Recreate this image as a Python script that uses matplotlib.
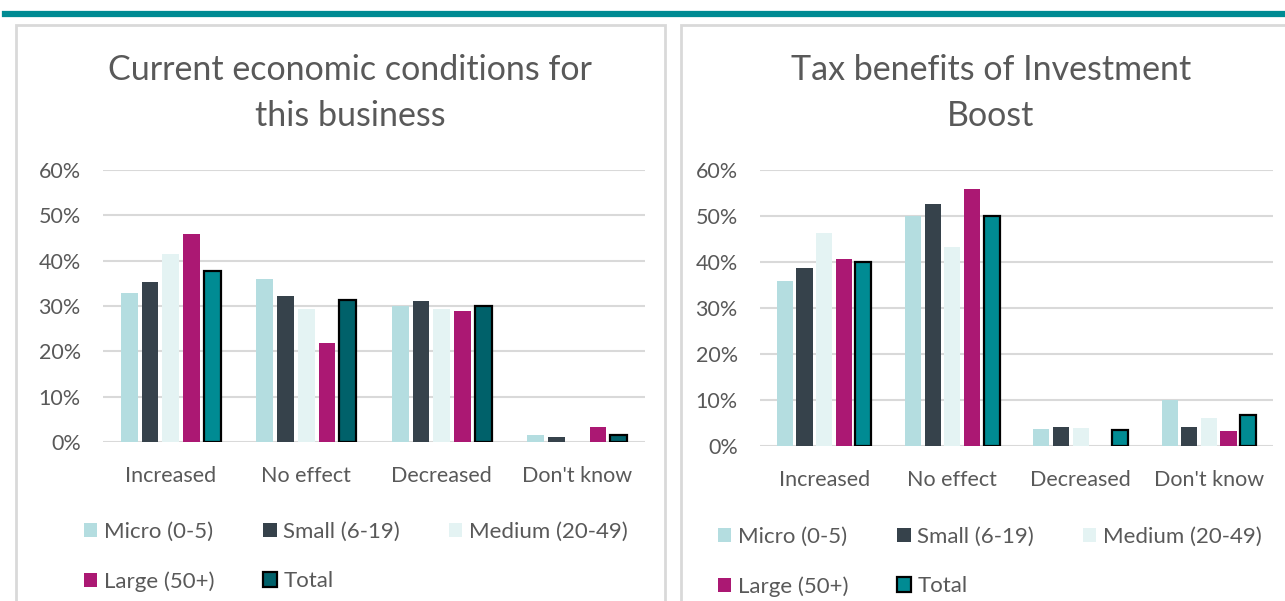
import matplotlib
matplotlib.use("Agg")
import matplotlib.pyplot as plt
import numpy as np
from matplotlib.patches import Patch, Rectangle
from matplotlib.lines import Line2D
from matplotlib.ticker import PercentFormatter

plt.rcParams['font.family'] = ['Lato', 'DejaVu Sans']

categories = ["Increased", "No effect", "Decreased", "Don't know"]
series = ["Micro (0-5)", "Small (6-19)", "Medium (20-49)", "Large (50+)", "Total"]

# left chart: Current economic conditions
econ_micro = [32.9, 36.0, 29.9, 1.6]
econ_small = [35.4, 32.2, 31.1, 1.0]
econ_medium = [41.4, 29.3, 29.3, 0.0]
econ_large = [45.8, 21.9, 28.8, 3.3]
econ_total = [37.7, 31.3, 30.1, 1.6]

# right chart: Tax benefits of Investment Boost
tax_micro = [35.8, 50.0, 3.8, 10.1]
tax_small = [38.6, 52.7, 4.2, 4.2]
tax_medium = [46.4, 43.3, 4.0, 6.0]
tax_large = [40.7, 55.9, 0.0, 3.3]
tax_total = [40.1, 49.9, 3.5, 6.7]

colors = ["#B4DDE0", "#36424B", "#E4F3F3", "#AB1873", "#008B93"]
dark_total = "#00616A"
grey_txt = "#595959"
grid_col = "#D9D9D9"

W, H = 1285, 601
fig = plt.figure(figsize=(W / 100, H / 100), dpi=100)


def box(x0, y0, x1, y1):
    # pixel box (top-left origin) -> figure fraction
    return [x0 / W, 1 - y1 / H, (x1 - x0) / W, (y1 - y0) / H]


# teal rule on top and the panel frames
fig.add_artist(Line2D([5 / W, 1], [1 - 13.5 / H] * 2, color="#008B93", lw=4.5))
fig.add_artist(Rectangle((16 / W, -0.05), (665 - 16) / W, 1.05 - 25 / H,
                         transform=fig.transFigure, fill=False, ec=grid_col, lw=2))
fig.add_artist(Rectangle((681 / W, -0.05), 1.0, 1.05 - 25 / H,
                         transform=fig.transFigure, fill=False, ec=grid_col, lw=2))


def draw(ax, data, total_colors, title, title_x, legend_total):
    x = np.arange(len(categories))
    width = 0.125
    step = 0.153
    for i, vals in enumerate(data):
        pos = x + (i - 2) * step
        v = np.array(vals) / 100
        if i == 4:
            ax.bar(pos, v, width, color=total_colors, edgecolor="black", linewidth=1.6, zorder=3)
        else:
            ax.bar(pos, v, width, color=colors[i], zorder=3)
    ax.set_xlim(-0.5, 3.5)
    ax.set_ylim(0, 0.6)
    ax.set_yticks(np.arange(0, 0.61, 0.1))
    ax.yaxis.set_major_formatter(PercentFormatter(1.0, decimals=0))
    ax.set_xticks(x)
    ax.set_xticklabels(categories)
    ax.grid(axis="y", color=grid_col, lw=1.5, zorder=0)
    for s in ax.spines.values():
        s.set_visible(False)
    ax.tick_params(length=0, colors=grey_txt, labelsize=15.5)
    ax.tick_params(axis="y", pad=16)
    ax.tick_params(axis="x", pad=17)
    fig.text(title_x / W, 1 - 93 / H, title, ha="center", va="center",
             fontsize=24.5, color=grey_txt, linespacing=1.5)
    handles = [Patch(fc=colors[0]), Patch(fc=colors[3]), Patch(fc=colors[1]),
               Patch(fc=legend_total, ec="black", lw=1.6), Patch(fc=colors[2])]
    labels = [series[0], series[3], series[1], series[4], series[2]]
    return handles, labels


def legend(ax, h, l, x0, y0):
    ax.legend(h, l, ncol=3, loc="upper left", bbox_to_anchor=(x0 / W, 1 - y0 / H),
              bbox_transform=fig.transFigure, frameon=False, fontsize=16,
              labelcolor=grey_txt, handlelength=0.6, handleheight=0.6,
              handletextpad=0.3, columnspacing=2.2, labelspacing=1.32)


ax1 = fig.add_axes(box(103, 170, 645, 442))
tc1 = [colors[4], dark_total, dark_total, dark_total]
h, l = draw(ax1, [econ_micro, econ_small, econ_medium, econ_large, econ_total], tc1,
            "Current economic conditions for\nthis business", 350, dark_total)
legend(ax1, h, l, 64, 502)

ax2 = fig.add_axes(box(760, 170, 1273, 446))
h, l = draw(ax2, [tax_micro, tax_small, tax_medium, tax_large, tax_total], colors[4],
            "Tax benefits of Investment\nBoost", 991, colors[4])
legend(ax2, h, l, 698, 507)

fig.savefig("out.png", dpi=100)
